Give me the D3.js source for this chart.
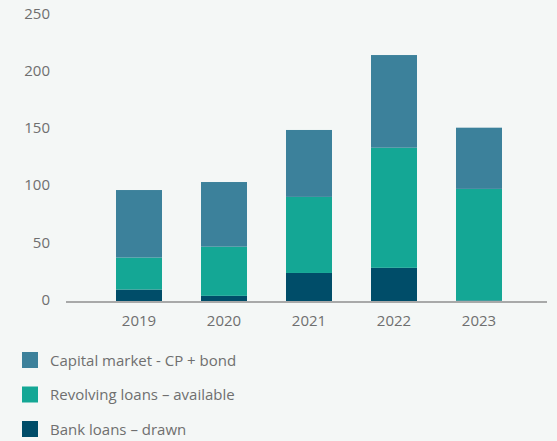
<!DOCTYPE html>
<html>
<head>
<meta charset="utf-8">
<script src="https://cdn.jsdelivr.net/npm/d3@7/dist/d3.min.js"></script>
<style>
  html, body { margin: 0; padding: 0; background: #f4f7f6; }
  svg { display: block; }
  text { font-family: "Open Sans", Lato, sans-serif; fill: #6f6f6f; }
</style>
</head>
<body>
<svg id="chart" width="557" height="441"></svg>
<script>
// Funding sources by year
const years = ["2019", "2020", "2021", "2022", "2023"];
const bankLoans = [10, 4.5, 24.5, 29, 0.5];
const revolvingLoans = [28, 43, 66.5, 105, 97.5];
const capitalMarket = [59, 56.5, 58.5, 81, 53.5];
const yTicks = [0, 50, 100, 150, 200, 250];

const seriesNames = ["Bank loans – drawn", "Revolving loans – available", "Capital market - CP + bond"];
const seriesValues = [bankLoans, revolvingLoans, capitalMarket];
const colors = ["#004d69", "#14a795", "#3c819b"];

const rows = years.map((y, i) => {
  const r = { year: y };
  seriesNames.forEach((n, k) => { r[n] = seriesValues[k][i]; });
  return r;
});

const svg = d3.select("#chart");
const plotLeft = 66, plotRight = 547;
const fontFamily = "'Open Sans', Lato, sans-serif";

const x = d3.scaleBand()
  .domain(years)
  .range([116, 502])
  .paddingInner(39 / 85)
  .paddingOuter(0);

const y = d3.scaleLinear().domain([0, 250]).range([301, 15]);

const stack = d3.stack().keys(seriesNames)(rows);

// y-axis labels (no line)
const yAxis = svg.append("g")
  .attr("transform", "translate(50,0)")
  .call(d3.axisLeft(y).tickValues(yTicks).tickSize(0).tickPadding(0));
yAxis.select(".domain").remove();
yAxis.selectAll("text")
  .attr("dy", "0.35em")
  .attr("y", -2)
  .style("font-size", "15px")
  .style("font-family", fontFamily)
  .attr("fill", "#6f6f6f");

// stacked bars
svg.append("g").selectAll("g")
  .data(stack)
  .join("g")
  .attr("fill", (d, i) => colors[i])
  .selectAll("rect")
  .data(d => d)
  .join("rect")
  .attr("x", d => x(d.data.year))
  .attr("width", x.bandwidth())
  .attr("y", d => y(d[1]))
  .attr("height", d => y(d[0]) - y(d[1]));

// baseline
svg.append("line")
  .attr("x1", plotLeft).attr("x2", plotRight)
  .attr("y1", 302).attr("y2", 302)
  .attr("stroke", "#a8a9a9").attr("stroke-width", 2);

// x-axis labels
const xAxis = svg.append("g")
  .attr("transform", "translate(0,303)")
  .call(d3.axisBottom(x).tickSize(0).tickPadding(0));
xAxis.select(".domain").remove();
xAxis.selectAll("text")
  .attr("dy", 0)
  .attr("y", 23)
  .style("font-size", "15px")
  .style("font-family", fontFamily)
  .attr("fill", "#6f6f6f");

// legend
const legendOrder = [2, 1, 0];
const legend = svg.append("g").selectAll("g")
  .data(legendOrder)
  .join("g")
  .attr("transform", (d, i) => `translate(22,${352 + i * 34.5})`);
legend.append("rect")
  .attr("width", 16).attr("height", 16)
  .attr("fill", d => colors[d]);
legend.append("text")
  .attr("x", 28).attr("y", 8)
  .attr("dy", "0.38em")
  .style("font-size", "15px")
  .style("font-family", fontFamily)
  .text(d => seriesNames[d]);
</script>
</body>
</html>
